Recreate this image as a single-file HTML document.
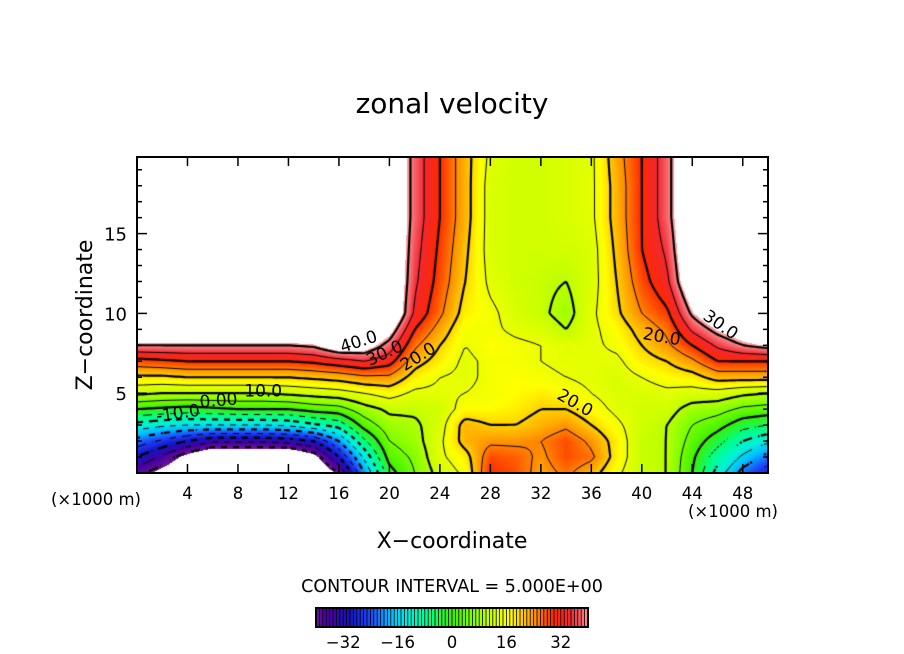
<!DOCTYPE html>
<html><head><meta charset="utf-8">
<style>
html,body{margin:0;padding:0;background:#fff;}
#wrap{position:relative;width:904px;height:654px;overflow:hidden;font-family:"DejaVu Sans","Liberation Sans",sans-serif;}
#field{position:absolute;left:137px;top:157px;}
#ov{position:absolute;left:0;top:0;}
</style></head>
<body>
<div id="wrap">
<canvas id="field" width="631" height="316"></canvas>
<svg id="ov" width="904" height="654"></svg>
</div>
<script>
// ---- data ----
const xCoords = [0,2,4,6,8,10,12,14,16,18,20,22,24,26,28,30,32,34,36,38,40,42,44,46,48,50];
const zCoords = [0,1,2,3,4,5,6,7,8,9,10,12,14,16,18,20];
const velocity = [
[-38,-30,-22,-12,0,11,19,28,40,50,50,50,50,50,50,50],
[-44,-36,-26,-14,-1,10,19,29,40,50,50,50,50,50,50,50],
[-50,-44,-30,-15,-2,10,20,30,40,50,50,50,50,50,50,50],
[-50,-50,-34,-15,-1,10,20,30,40,50,50,50,50,50,50,50],
[-50,-50,-34,-15,0,10,20,30,40,50,50,50,50,50,50,50],
[-50,-50,-34,-15,0,10,20,30,40,50,50,50,50,50,50,50],
[-50,-50,-33,-14,0,11,20,30,40,50,50,50,50,50,50,50],
[-50,-44,-30,-11,2,12,21,31,41,50,50,50,50,50,50,50],
[-40,-30,-20,-8,3,13,22,33,46,50,50,50,50,50,50,50],
[-20,-14,-6,2,8,15,24,35,45,50,50,50,50,50,50,50],
[-2,2,5,8,11,17,24,32,38,44,50,50,50,50,50,50],
[5,6,8,9,11,14,18,22,26,30,34,36,37,38,38,38],
[12,14,14,13,12,14,15,18,20,23,26,28,29,30,30,30],
[16,18,22,22,17,15,14,14,15,16,18,20,21,22,22,22],
[30,28,24,20,17,16,16,16,17,16,16,14,13,13,13,14],
[28,27,24,20,18,17,17,16,16,14,13,12,12,12,12,12],
[23,24,25,22,20,18,16,15,15,13,11,11,12,12,12,12],
[26,28,28,24,20,17,15,14,14,10,8,10,12,13,13,13],
[22,26,24,20,17,15,14,14,14,14,14,13,13,14,14,14],
[16,18,18,16,14,13,13,14,16,17,19,20,21,22,22,23],
[11,11,11,12,12,13,15,18,20,22,25,28,30,30,30,30],
[10,10,10,10,12,14,17,20,24,26,29,34,36,38,38,38],
[0,1,3,5,8,13,18,24,30,36,41,48,50,50,50,50],
[-12,-8,-3,2,7,13,22,30,36,42,48,50,50,50,50,50],
[-22,-16,-10,-3,4,11,22,30,40,46,50,50,50,50,50,50],
[-28,-22,-14,-5,3,10,22,30,42,50,50,50,50,50,50,50]
];
const contourLevels = [-40,-35,-30,-25,-20,-15,-10,-5,0,5,10,15,20,25,30,35,40];
const xTicks = [4,8,12,16,20,24,28,32,36,40,44,48];
const zTicks = [5,10,15];
const colorbarTicks = [-32,-16,0,16,32];
const contourLabels = [
 {t:"40.0",x:17.7,z:7.9,a:-18},{t:"30.0",x:19.8,z:7.2,a:-25},{t:"20.0",x:22.5,z:7.0,a:-32},
 {t:"10.0",x:10.0,z:4.8,a:0},{t:"0.00",x:6.5,z:4.2,a:-5},{t:"-10.0",x:3.3,z:3.4,a:-8},
 {t:"20.0",x:34.5,z:4.1,a:30},{t:"20.0",x:41.5,z:8.2,a:10},{t:"30.0",x:46.0,z:9.0,a:35}
];
// ---- axes ----
const PX0=137,PX1=768,PY0=157,PY1=473,XMAX=50,ZMAX=19.8;
const sx=x=>PX0+(x/XMAX)*(PX1-PX0);
const sz=z=>PY1-(z/ZMAX)*(PY1-PY0);
const VMIN=-40,VMAX=40;
const cbX0=316,cbX1=588;
const scb=v=>cbX0+(v-VMIN)/(VMAX-VMIN)*(cbX1-cbX0);

const cstops=[[-41,[110,20,150]],[-36,[70,0,160]],[-30,[20,20,190]],[-24,[30,70,255]],[-18,[0,190,255]],[-13,[0,240,220]],[-7,[0,255,140]],[0,[60,240,0]],[6,[130,255,0]],[11,[200,255,0]],[17,[255,255,0]],[24,[255,150,0]],[30,[255,40,0]],[35,[240,40,50]],[41,[255,160,160]]];
function color(v){
  if(v<=cstops[0][0])return cstops[0][1];
  for(let i=1;i<cstops.length;i++){if(v<=cstops[i][0]){const a=cstops[i-1],b=cstops[i];const t=(v-a[0])/(b[0]-a[0]);return a[1].map((c,k)=>Math.round(c+(b[1][k]-c)*t));}}
  return cstops[cstops.length-1][1];
}
function idx(arr,v){for(let i=0;i<arr.length-1;i++){if(v<=arr[i+1])return [i,(v-arr[i])/(arr[i+1]-arr[i])];}return [arr.length-2,1];}
function val(x,z){
  const [i,tx]=idx(xCoords,x),[j,tz]=idx(zCoords,z);
  const a=velocity[i][j],b=velocity[i+1][j],c=velocity[i][j+1],d=velocity[i+1][j+1];
  return (a*(1-tx)+b*tx)*(1-tz)+(c*(1-tx)+d*tx)*tz;
}
// ---- fill ----
const cv=document.getElementById('field');const ctx=cv.getContext('2d');
const W=cv.width,H=cv.height;const img=ctx.createImageData(W,H);
for(let py=0;py<H;py++)for(let px=0;px<W;px++){
  const x=(px+0.5)/W*XMAX,z=(H-py-0.5)/H*ZMAX;const v=val(x,z);const o=(py*W+px)*4;
  let c=(v>41.5||v<-41.5)?[255,255,255]:color(v);
  img.data[o]=c[0];img.data[o+1]=c[1];img.data[o+2]=c[2];img.data[o+3]=255;
}
ctx.putImageData(img,0,0);
// ---- contours (marching squares) ----
const S=3,NX=Math.ceil(W/S),NY=Math.ceil(H/S);
const g=[];for(let j=0;j<=NY;j++){g[j]=[];for(let i=0;i<=NX;i++){const px=Math.min(i*S,W),py=Math.min(j*S,H);g[j][i]=val(px/W*XMAX,Math.max(0,(H-py)/H*ZMAX));}}
contourLevels.forEach(L=>{
  ctx.beginPath();
  ctx.lineWidth=(L%10===0)?2.2:1;ctx.strokeStyle='#000';
  for(let j=0;j<NY;j++)for(let i=0;i<NX;i++){
    const p=[[i*S,j*S,g[j][i]],[(i+1)*S,j*S,g[j][i+1]],[(i+1)*S,(j+1)*S,g[j+1][i+1]],[i*S,(j+1)*S,g[j+1][i]]];
    const pts=[];
    for(let k=0;k<4;k++){const a=p[k],b=p[(k+1)%4];if((a[2]<L)!==(b[2]<L)){const t=(L-a[2])/(b[2]-a[2]);pts.push([a[0]+(b[0]-a[0])*t,a[1]+(b[1]-a[1])*t]);}}
    if(L<0&&Math.floor((i+j)/2)%2===1)continue;
    for(let k=0;k+1<pts.length;k+=2){ctx.moveTo(pts[k][0],pts[k][1]);ctx.lineTo(pts[k+1][0],pts[k+1][1]);}
  }
  ctx.stroke();
});
// ---- svg overlay ----
const NS='http://www.w3.org/2000/svg';const svg=document.getElementById('ov');
function el(tag,attrs,txt){const e=document.createElementNS(NS,tag);for(const k in attrs)e.setAttribute(k,attrs[k]);if(txt!=null)e.textContent=txt;svg.appendChild(e);return e;}
let e;
e=el('rect',{x:PX0,y:PY0,width:PX1-PX0,height:PY1-PY0,fill:'none',stroke:'#000','stroke-width':2});


xTicks.forEach(t=>{
  const x=sx(t);
  e=el('line',{x1:x,y1:PY1,x2:x,y2:PY1-9,stroke:'#000','stroke-width':1.5});
  
  
  e=el('line',{x1:x,y1:PY0,x2:x,y2:PY0+9,stroke:'#000','stroke-width':1.5});
  
  
  e=el('text',{x:x,y:499,'text-anchor':'middle','font-size':16.5},String(t));
  
  
});
for(let z=1;z<ZMAX;z++){
  const y=sz(z),L=(z%5===0)?10:5;
  e=el('line',{x1:PX0,y1:y,x2:PX0+L,y2:y,stroke:'#000','stroke-width':1.5});
  
  
  e=el('line',{x1:PX1,y1:y,x2:PX1-L,y2:y,stroke:'#000','stroke-width':1.5});
  
  
}
zTicks.forEach(t=>{
  e=el('text',{x:127,y:sz(t)+7,'text-anchor':'end','font-size':18},String(t));
  
  
});
contourLabels.forEach(c=>{
  const x=sx(c.x),y=sz(c.z);
  e=el('text',{x:x,y:y,'text-anchor':'middle','font-size':17,transform:`rotate(${c.a} ${x} ${y})`},c.t);
  
  
});
e=el('text',{x:452,y:113,'text-anchor':'middle','font-size':28},'zonal velocity');


e=el('text',{x:452,y:548,'text-anchor':'middle','font-size':22},'X\u2212coordinate');


e=el('text',{x:92,y:315,'text-anchor':'middle','font-size':22,transform:'rotate(-90 92 315)'},'Z\u2212coordinate');


e=el('text',{x:96,y:505,'text-anchor':'middle','font-size':16.5},'(\u00d71000 m)');


e=el('text',{x:733,y:517,'text-anchor':'middle','font-size':16.5},'(\u00d71000 m)');


e=el('text',{x:452,y:592,'text-anchor':'middle','font-size':17.5},'CONTOUR INTERVAL = 5.000E+00');


for(let v=VMIN;v<VMAX;v++){
  const c=color(v+0.5);
  e=el('rect',{x:scb(v),y:609,width:scb(v+1)-scb(v)+0.2,height:17,fill:`rgb(${c[0]},${c[1]},${c[2]})`});
  
  
  if(v>VMIN){
    e=el('line',{x1:scb(v),y1:609,x2:scb(v),y2:626,stroke:'#000','stroke-width':0.8});
    
    
  }
}
e=el('rect',{x:cbX0,y:608,width:cbX1-cbX0,height:19,fill:'none',stroke:'#000','stroke-width':2});


colorbarTicks.forEach(t=>{
  e=el('text',{x:scb(t),y:648,'text-anchor':'middle','font-size':16.5},t<0?'\u2212'+Math.abs(t):String(t));
  
  
});
</script>
</body></html>
